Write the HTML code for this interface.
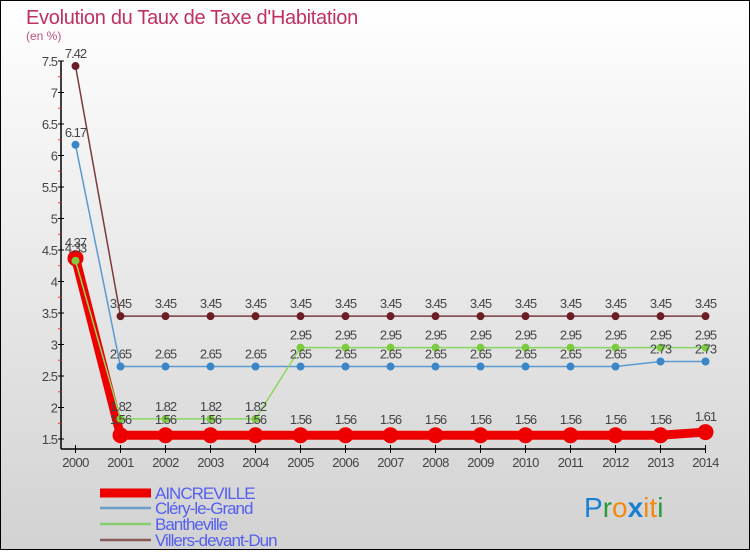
<!DOCTYPE html>
<html><head><meta charset="utf-8"><style>
html,body{margin:0;padding:0;}
body{width:750px;height:550px;overflow:hidden;font-family:"Liberation Sans",sans-serif;}
</style></head><body>
<svg id="chart" width="750" height="550" xmlns="http://www.w3.org/2000/svg">
<defs><linearGradient id="bg" x1="0" y1="0" x2="0" y2="1"><stop offset="0" stop-color="#ffffff"/><stop offset="1" stop-color="#d2d2d2"/></linearGradient></defs>
<rect x="0.5" y="0.5" width="749" height="549" fill="url(#bg)" stroke="#000" stroke-width="1"/>
<text x="26" y="24" font-size="20" fill="#c0305e" letter-spacing="-0.3">Evolution du Taux de Taxe d'Habitation</text>
<text x="26" y="40" font-size="12" fill="#c0507e">(en %)</text>
<g id="axes"></g>
<g id="series"></g>
<g id="legend"></g>
<g font-size="28" font-family="'Liberation Sans',sans-serif">
<text x="584" y="517"><tspan fill="#1a7fd0">P</tspan><tspan fill="#2a9a3a">r</tspan><tspan fill="#f08a10">o</tspan><tspan fill="#1a7fd0" font-weight="bold">x</tspan><tspan fill="#f08a10">i</tspan><tspan fill="#f08a10">t</tspan><tspan fill="#2a9a3a">i</tspan></text>
</g>
</svg>
<script>
const years=[2000,2001,2002,2003,2004,2005,2006,2007,2008,2009,2010,2011,2012,2013,2014];
const yTicks=[1.5,2,2.5,3,3.5,4,4.5,5,5.5,6,6.5,7,7.5];
const seriesNames=["AINCREVILLE","Cléry-le-Grand","Bantheville","Villers-devant-Dun"];
const aincreville=[4.37,1.56,1.56,1.56,1.56,1.56,1.56,1.56,1.56,1.56,1.56,1.56,1.56,1.56,1.61];
const clery=[6.17,2.65,2.65,2.65,2.65,2.65,2.65,2.65,2.65,2.65,2.65,2.65,2.65,2.73,2.73];
const bantheville=[4.33,1.82,1.82,1.82,1.82,2.95,2.95,2.95,2.95,2.95,2.95,2.95,2.95,2.95,2.95];
const villers=[7.42,3.45,3.45,3.45,3.45,3.45,3.45,3.45,3.45,3.45,3.45,3.45,3.45,3.45,3.45];
const NS="http://www.w3.org/2000/svg";
const x=i=>75.5+i*45;
const y=v=>439-(v-1.5)*63;
function mk(tag,attrs,parent){const e=document.createElementNS(NS,tag);for(const k in attrs)e.setAttribute(k,attrs[k]);parent.appendChild(e);return e;}
const ax=document.getElementById('axes');
let l=mk('line',{x1:61,y1:y(7.5),x2:61,y2:449,stroke:'#000','stroke-width':1.5},ax);


l=mk('line',{x1:61,y1:449,x2:705.5,y2:449,stroke:'#000','stroke-width':1.5},ax);


yTicks.forEach(v=>{
  mk('line',{x1:58,y1:y(v),x2:64,y2:y(v),stroke:'#000'},ax);
  const t=mk('text',{x:57,y:y(v)+5,'font-size':13,fill:'#444','text-anchor':'end','letter-spacing':'-1'},ax);
  t.textContent=String(v);
  
  
  if(v<7.5) mk('line',{x1:58,y1:y(v+0.25),x2:61,y2:y(v+0.25),stroke:'#e33'},ax);
});
years.forEach((yr,i)=>{
  mk('line',{x1:x(i),y1:445,x2:x(i),y2:453,stroke:'#000'},ax);
  const t=mk('text',{x:x(i),y:467,'font-size':13,fill:'#444','text-anchor':'middle','letter-spacing':'-0.6'},ax);
  t.textContent=yr;
  
  
});
const sg=document.getElementById('series');
const defs=[
 {d:villers,c:'#6b1f24',lc:'#7a3a3e',w:1.5,r:4,name:'villers'},
 {d:clery,c:'#3a86c8',lc:'#5a9ad0',w:1.5,r:4,name:'clery'},
 {d:bantheville,c:'#7ccc40',lc:'#88d860',w:1.5,r:4,name:'bantheville'},
 {d:aincreville,c:'#ee0000',lc:'#ee0000',w:9,r:8,name:'aincreville'}
];
const order=[3,1,2,0];
order.forEach(k=>{
  const s=defs[k];
  const p=mk('polyline',{points:s.d.map((v,i)=>x(i)+','+y(v)).join(' '),fill:'none',stroke:s.lc,'stroke-width':s.w,'stroke-linejoin':'round'},sg);
  
  
  s.d.forEach((v,i)=>{
    const c=mk('circle',{cx:x(i),cy:y(v),r:s.r,fill:s.c},sg);
    
    
  });
});
[defs[0],defs[1],defs[2],defs[3]].forEach(s=>{
  s.d.forEach((v,i)=>{
    const t=mk('text',{x:x(i),y:y(v)-(s.r>5?11:8),'font-size':13,fill:'#444','text-anchor':'middle','letter-spacing':'-1'},sg);
    t.textContent=String(v);
    
    
  });
});
const lg=document.getElementById('legend');
const lcols=['#ee0000','#6aa0c8','#88cc70','#8a5a5a'];
const lw=[9,2.5,2.5,2.5];
const ly=[493,508,524,540];
seriesNames.forEach((n,i)=>{
  const ln=mk('line',{x1:100,y1:ly[i],x2:151,y2:ly[i],stroke:lcols[i],'stroke-width':lw[i]},lg);
  
  
  const t=mk('text',{x:155,y:ly[i]+6,'font-size':17,fill:'#5560ee','letter-spacing':'-1'},lg);
  t.textContent=n;
  
  
});
</script>
</body></html>
